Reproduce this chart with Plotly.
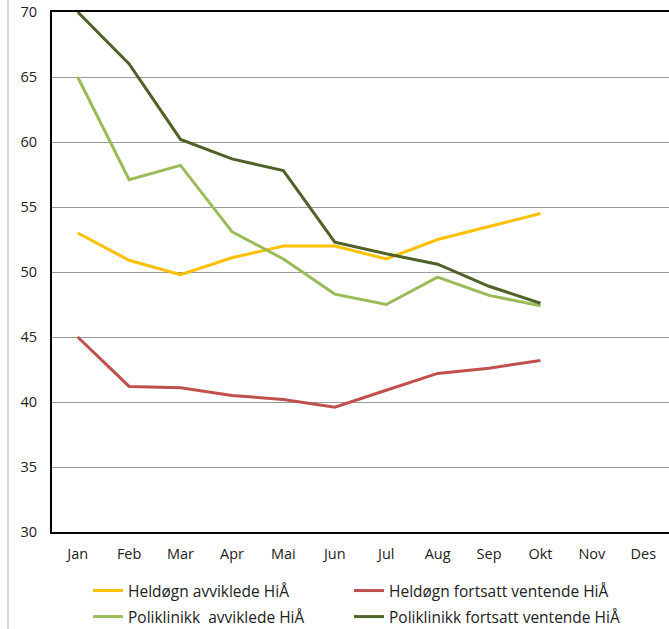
import plotly.graph_objects as go

months = ["Jan", "Feb", "Mar", "Apr", "Mai", "Jun", "Jul", "Aug", "Sep", "Okt", "Nov", "Des"]

heldogn_avviklede = [53.0, 50.9, 49.8, 51.1, 52.0, 52.0, 51.0, 52.5, 53.5, 54.5]
heldogn_ventende = [45.0, 41.2, 41.1, 40.5, 40.2, 39.6, 40.9, 42.2, 42.6, 43.2]
poli_avviklede = [65.0, 57.1, 58.2, 53.1, 51.0, 48.3, 47.5, 49.6, 48.2, 47.4]
poli_ventende = [70.0, 66.0, 60.2, 58.7, 57.8, 52.3, 51.4, 50.6, 48.9, 47.6]

series = [
    ("Heldøgn avviklede HiÅ", heldogn_avviklede, "#FFC000", "legend"),
    ("Heldøgn fortsatt ventende HiÅ", heldogn_ventende, "#C0504D", "legend2"),
    ("Poliklinikk  avviklede HiÅ", poli_avviklede, "#9BBB59", "legend3"),
    ("Poliklinikk fortsatt ventende HiÅ", poli_ventende, "#4F6228", "legend4"),
]

fig = go.Figure()
for name, vals, color, leg in series:
    fig.add_trace(go.Scatter(
        x=months[:len(vals)], y=vals, name=name, mode="lines",
        line=dict(color=color, width=3), legend=leg,
    ))

tick_font = dict(family="Open Sans, Noto Sans, sans-serif", size=14.5, color="#222")
leg_font = dict(family="Open Sans, Noto Sans, sans-serif", size=15.5, color="#222")

PLOT_L, PLOT_T, PLOT_B, PLOT_W = 52, 12, 532, 617
PLOT_H = PLOT_B - PLOT_T


def legend_at(px_x, px_y):
    return dict(
        orientation="h", x=(px_x - PLOT_L) / PLOT_W, xanchor="left",
        y=(PLOT_B - px_y) / PLOT_H, yanchor="middle",
        font=leg_font, bgcolor="rgba(0,0,0,0)", itemclick=False,
        borderwidth=0,
    )


fig.update_layout(
    width=669, height=629,
    margin=dict(l=PLOT_L, r=0, t=PLOT_T, b=629 - PLOT_B, autoexpand=False),
    paper_bgcolor="white", plot_bgcolor="white",
    font=tick_font,
    showlegend=True,
    xaxis=dict(
        type="category", categoryorder="array", categoryarray=months,
        range=[-0.5, 11.5], showgrid=False, showline=True, linecolor="black",
        linewidth=2, mirror=True, ticks="", ticklabelstandoff=8,
        tickfont=tick_font,
    ),
    yaxis=dict(
        range=[30, 70], dtick=5, showgrid=True, gridcolor="#9a9a9a",
        gridwidth=1, showline=True, linecolor="black", linewidth=2,
        zeroline=False, ticks="", ticklabelstandoff=10, tickfont=tick_font,
    ),
    legend=legend_at(88, 591),
    legend2=legend_at(349, 591),
    legend3=legend_at(88, 617),
    legend4=legend_at(349, 617),
)

# thin grey frame line along the left edge of the chart area
fig.add_shape(type="line", xref="paper", yref="paper",
              x0=-44 / PLOT_W, x1=-44 / PLOT_W, y0=-97 / PLOT_H, y1=1 + 12 / PLOT_H,
              line=dict(color="#c8c8c8", width=1.5))

fig.write_html("out.html")
